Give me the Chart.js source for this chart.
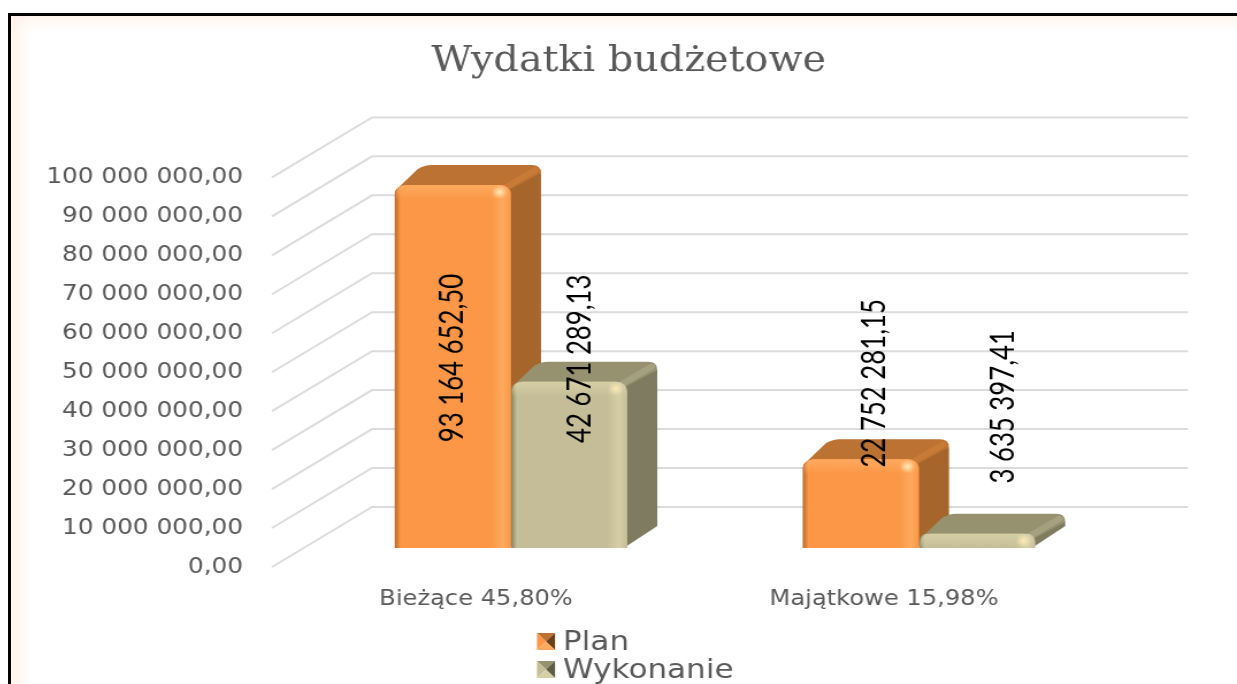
<!DOCTYPE html>
<html>
<head>
<meta charset="utf-8">
<style>
  html, body { margin: 0; padding: 0; background: #fff; overflow: hidden; }
  #frame { position: absolute; left: 8px; top: 13px; width: 1240px; height: 700px; border: 3px solid #000;
    box-shadow: inset 14px 10px 14px -4px #fff3ea; }
  #myChart { position: absolute; left: 20px; top: 0; }
</style>
</head>
<body>
<div id="frame"></div>
<!-- the reference is a picture stretched sideways, so the canvas is too -->
<canvas id="myChart" width="1058" height="684" style="width:1217px;height:684px"></canvas>
<script src="https://cdn.jsdelivr.net/npm/chart.js@4"></script>
<script>
const categories = ['Bieżące 45,80%', 'Majątkowe 15,98%']
const planValues = [93164652.50, 22752281.15]
const wykonanieValues = [42671289.13, 3635397.41]

// face, left edge, bevel, side, top
const orange = { face: '#fb9746', edge: '#b8692c', light: '#ffa95e', side: '#a5652b', top: '#bb7232', rim: '#c87a37', dark: '#6b3d17' }
const beige = { face: '#c4bd97', edge: '#85815f', light: '#d6cfa6', side: '#7f7b60', top: '#96916f', rim: '#a5a07f', dark: '#5f5c46' }

const stretch = 1217 / 1058
const X = px => px / stretch

// label shift from the top middle of each front face: dataset, bar
const labelShift = [[[0, 173], [14, -76]], [[11, -23], [26, -127]]]

const barShift = { x: X(35), y: -19 }
const depth = { x: X(30), y: -20 }
const wall = { x: X(100), y: -60 }
const gridColor = '#dcdcdc'
const groupShare = 0.57

function formatPl(v, digits) {
  const parts = v.toFixed(digits).split('.')
  return parts[0].replace(/\B(?=(\d{3})+(?!\d))/g, ' ') + ',' + parts[1]
}

function faceGradient(c, colors) {
  const { chart, datasetIndex, dataIndex } = c
  const x = chart.scales.x
  if (!x || dataIndex === undefined) return colors.face
  const w = (x.width / categories.length) * groupShare / 2
  const left = x.getPixelForTick(dataIndex) - w + datasetIndex * w
  if (!Number.isFinite(left) || !Number.isFinite(w)) return colors.face
  const g = chart.ctx.createLinearGradient(left, 0, left + w, 0)
  g.addColorStop(0, colors.edge)
  g.addColorStop(0.05, colors.face)
  g.addColorStop(0.82, colors.face)
  g.addColorStop(0.93, colors.light)
  g.addColorStop(1, colors.face)
  return g
}

function poly(ctx, pts, fill) {
  ctx.beginPath()
  pts.forEach((p, i) => i ? ctx.lineTo(p[0], p[1]) : ctx.moveTo(p[0], p[1]))
  ctx.closePath()
  ctx.fillStyle = fill
  ctx.fill()
}

function topFace(ctx, x0, x1, y, fill) {
  const bx = depth.x, by = y + depth.y
  ctx.beginPath()
  ctx.moveTo(x0 + 1, y + 5)
  ctx.lineTo(x0 + bx - 6, by + 4)
  ctx.quadraticCurveTo(x0 + bx, by, x0 + bx + 6, by)
  ctx.lineTo(x1 + bx - 8, by)
  ctx.quadraticCurveTo(x1 + bx, by, x1 + bx, by + 8)
  ctx.lineTo(x1, y + 10)
  ctx.lineTo(x0 + 1, y + 10)
  ctx.closePath()
  ctx.fillStyle = fill
  ctx.fill()
}

const scene3d = {
  id: 'scene3d',
  beforeDatasetsDraw(chart) {
    const ctx = chart.ctx
    const { x: xs, y: ys } = chart.scales
    const left = xs.left, right = xs.right

    ctx.save()
    ctx.strokeStyle = gridColor
    ctx.lineWidth = 2
    ys.ticks.forEach(t => {
      const py = ys.getPixelForValue(t.value)
      ctx.beginPath()
      ctx.moveTo(left, py)
      ctx.lineTo(left + wall.x, py + wall.y)
      ctx.lineTo(right + wall.x, py + wall.y)
      ctx.stroke()
    })
    ctx.restore()

    // native bars are drawn in this shifted plane, restored in afterDatasetsDraw
    ctx.save()
    ctx.translate(barShift.x, barShift.y)
    chart.data.datasets.forEach((ds, di) => {
      const colors = di === 0 ? orange : beige
      chart.getDatasetMeta(di).data.forEach(bar => {
        const x0 = bar.x - bar.width / 2, x1 = bar.x + bar.width / 2
        const y = bar.y, b = bar.base
        topFace(ctx, x0, x1, y, colors.top)
        poly(ctx, [[x1 - 3, y + 6], [x1 + depth.x, y + depth.y + 8], [x1 + depth.x, b + depth.y - 2], [x1 - 3, b]], colors.side)
        // lighter rim where the top meets the side
        ctx.strokeStyle = colors.rim
        ctx.lineWidth = 6
        ctx.lineCap = 'round'
        ctx.beginPath()
        ctx.moveTo(x1 - 6, y + 3)
        ctx.lineTo(x1 + depth.x - 5, y + depth.y + 5)
        ctx.stroke()
      })
    })
  },
  afterDatasetsDraw(chart) {
    const ctx = chart.ctx
    chart.data.datasets.forEach((ds, di) => {
      const colors = di === 0 ? orange : beige
      chart.getDatasetMeta(di).data.forEach(bar => {
        const x0 = bar.x - bar.width / 2, x1 = bar.x + bar.width / 2
        const g = ctx.createLinearGradient(0, bar.y, 0, bar.y + 15)
        g.addColorStop(0, colors.light)
        g.addColorStop(1, colors.light + '00')
        ctx.fillStyle = g
        ctx.beginPath()
        ctx.roundRect(x0 + 1, bar.y, bar.width - 2, 15, [9, 9, 0, 0])
        ctx.fill()
        const spot = ctx.createRadialGradient(x1 - 10, bar.y + 7, 0, x1 - 10, bar.y + 7, 7)
        spot.addColorStop(0, '#ffe9b8')
        spot.addColorStop(1, '#ffe9b800')
        ctx.fillStyle = spot
        ctx.fillRect(x1 - 18, bar.y, 16, 14)
      })
    })
    ctx.restore()

    ctx.save()
    ctx.fillStyle = '#000'
    ctx.font = '28px Lato, "Liberation Sans", sans-serif'
    ctx.textAlign = 'center'
    ctx.textBaseline = 'middle'
    chart.data.datasets.forEach((ds, di) => {
      chart.getDatasetMeta(di).data.forEach((bar, i) => {
        const s = labelShift[di][i]
        ctx.save()
        ctx.translate(bar.x + barShift.x + X(s[0]), bar.y + barShift.y + s[1])
        ctx.rotate(-Math.PI / 2)
        ctx.scale(0.92, 1)
        ctx.fillText(formatPl(ds.data[i], 2), 0, 0)
        ctx.restore()
      })
    })
    ctx.restore()
  },
  afterDraw(chart) {
    const ctx = chart.ctx
    ctx.save()
    ctx.font = '27px "DejaVu Sans", sans-serif'
    ctx.textBaseline = 'middle'
    chart.data.datasets.forEach((ds, di) => {
      const colors = di === 0 ? orange : beige
      const sx = X(517), sy = 633 + di * 28, w = X(18), h = 17
      const c = [sx + w / 2, sy + h / 2]
      poly(ctx, [[sx, sy], [sx + w, sy], c], colors.top)
      poly(ctx, [[sx, sy], [sx, sy + h], c], colors.face)
      poly(ctx, [[sx + w, sy], [sx + w, sy + h], c], colors.dark)
      poly(ctx, [[sx, sy + h], [sx + w, sy + h], c], colors.light)
      ctx.fillStyle = '#595959'
      ctx.fillText(ds.label, X(543), sy + h / 2 + 1)
    })
    ctx.restore()
  }
}

new Chart(document.getElementById('myChart'), {
  type: 'bar',
  data: {
    labels: categories,
    datasets: [
      { label: 'Plan', data: planValues, backgroundColor: c => faceGradient(c, orange) },
      { label: 'Wykonanie', data: wykonanieValues, backgroundColor: c => faceGradient(c, beige) }
    ]
  },
  options: {
    responsive: false,
    animation: false,
    categoryPercentage: groupShare,
    barPercentage: 1,
    borderRadius: { topLeft: 9, topRight: 9, bottomLeft: 0, bottomRight: 0 },
    borderSkipped: false,
    plugins: {
      legend: { display: false },
      tooltip: { enabled: false },
      title: {
        display: true,
        text: 'Wydatki budżetowe',
        color: '#595959',
        font: { family: '"DejaVu Serif", serif', size: 34.5, weight: 'normal' },
        padding: { top: 41, bottom: 95 }
      }
    },
    scales: {
      x: {
        grid: { display: false, drawTicks: false },
        border: { display: false },
        ticks: { color: '#595959', padding: 20, font: { family: '"DejaVu Sans", sans-serif', size: 21 }, maxRotation: 0 },
        afterFit(scale) { scale.height = 117 }
      },
      y: {
        min: 0,
        max: 100000000,
        grid: { display: false, drawTicks: false },
        border: { display: false },
        ticks: {
          stepSize: 10000000,
          color: '#595959',
          padding: X(29),
          font: { family: '"DejaVu Sans", sans-serif', size: 21.5 },
          callback: v => formatPl(v, 2)
        },
        afterFit(scale) { scale.width = X(252) }
      },
      // empty axis, only keeps the room on the right for the back wall
      rightRoom: {
        type: 'linear',
        position: 'right',
        grid: { display: false, drawTicks: false },
        border: { display: false },
        ticks: { display: false },
        afterFit(scale) { scale.width = X(149) }
      }
    }
  },
  plugins: [scene3d]
})
</script>
</body>
</html>
